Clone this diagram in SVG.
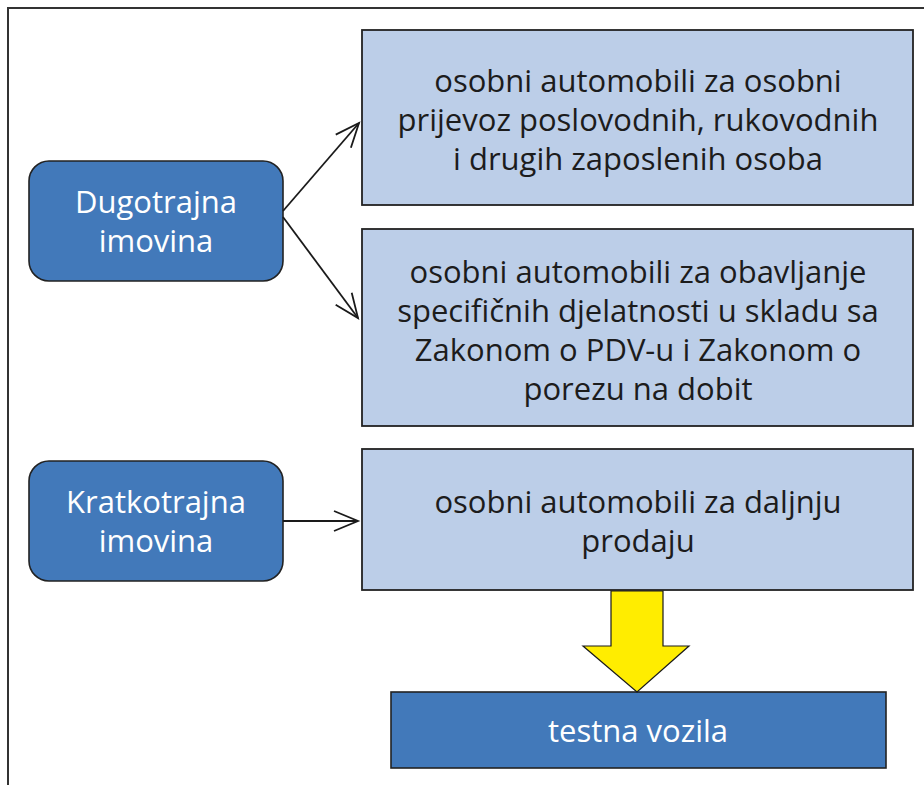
<svg xmlns="http://www.w3.org/2000/svg" width="924" height="785" viewBox="0 0 924 785">
<defs>
<marker id="open" markerUnits="userSpaceOnUse" markerWidth="28" markerHeight="24" refX="25" refY="12" orient="auto" overflow="visible">
<path d="M1,2 L25,12 L1,22" fill="none" stroke="#1a1a1a" stroke-width="1.8"/>
</marker>
</defs>
<style>
.frame{fill:none;stroke:#333;stroke-width:2}
.lb{fill:#bccee8;stroke:#222;stroke-width:1.8}
.db{fill:#4279ba;stroke:#222;stroke-width:1.6}
.t{font-family:"Open Sans","Liberation Sans",sans-serif;font-size:31px;text-anchor:middle}
.dk{fill:#1c1c1c}
.wh{fill:#ffffff}
.conn{fill:none;stroke:#1a1a1a;stroke-width:1.8;marker-end:url(#open)}
</style>
<rect width="924" height="785" fill="#ffffff"/>
<path class="frame" d="M8,785 L8,8 L924,8"/>

<g id="box-osobni-prijevoz">
<rect class="lb" x="362" y="30" width="551" height="175"/>
<text class="t dk"><tspan x="638" y="92">osobni automobili za osobni</tspan><tspan x="638" y="131">prijevoz poslovodnih, rukovodnih</tspan><tspan x="638" y="170">i drugih zaposlenih osoba</tspan></text>
</g>

<g id="box-specificne">
<rect class="lb" x="362" y="229" width="551" height="197"/>
<text class="t dk"><tspan x="638" y="283">osobni automobili za obavljanje</tspan><tspan x="638" y="322">specifičnih djelatnosti u skladu sa</tspan><tspan x="638" y="361">Zakonom o PDV-u i Zakonom o</tspan><tspan x="638" y="400">porezu na dobit</tspan></text>
</g>

<g id="box-prodaja">
<rect class="lb" x="362" y="449" width="551" height="141"/>
<text class="t dk"><tspan x="638" y="513">osobni automobili za daljnju</tspan><tspan x="638" y="552">prodaju</tspan></text>
</g>

<g id="node-dugotrajna">
<rect class="db" x="29" y="161" width="254" height="120" rx="20" ry="20"/>
<text class="t wh"><tspan x="156" y="213">Dugotrajna</tspan><tspan x="156" y="252">imovina</tspan></text>
</g>

<g id="node-kratkotrajna">
<rect class="db" x="29" y="461" width="254" height="120" rx="20" ry="20"/>
<text class="t wh"><tspan x="156" y="513">Kratkotrajna</tspan><tspan x="156" y="552">imovina</tspan></text>
</g>

<g id="node-testna">
<rect class="db" x="391" y="692" width="495" height="76"/>
<text class="t wh" x="638" y="742">testna vozila</text>
</g>

<g id="connectors">
<path class="conn" d="M283,211 L359,123"/>
<path class="conn" d="M283,217 L358,318"/>
<path class="conn" d="M283,521 L358,521"/>
<path d="M611,591 L663,591 L663,646 L689,646 L637,692 L583,646 L611,646 Z" fill="#ffed00" stroke="#1a1a1a" stroke-width="1.2"/>
</g>
</svg>
